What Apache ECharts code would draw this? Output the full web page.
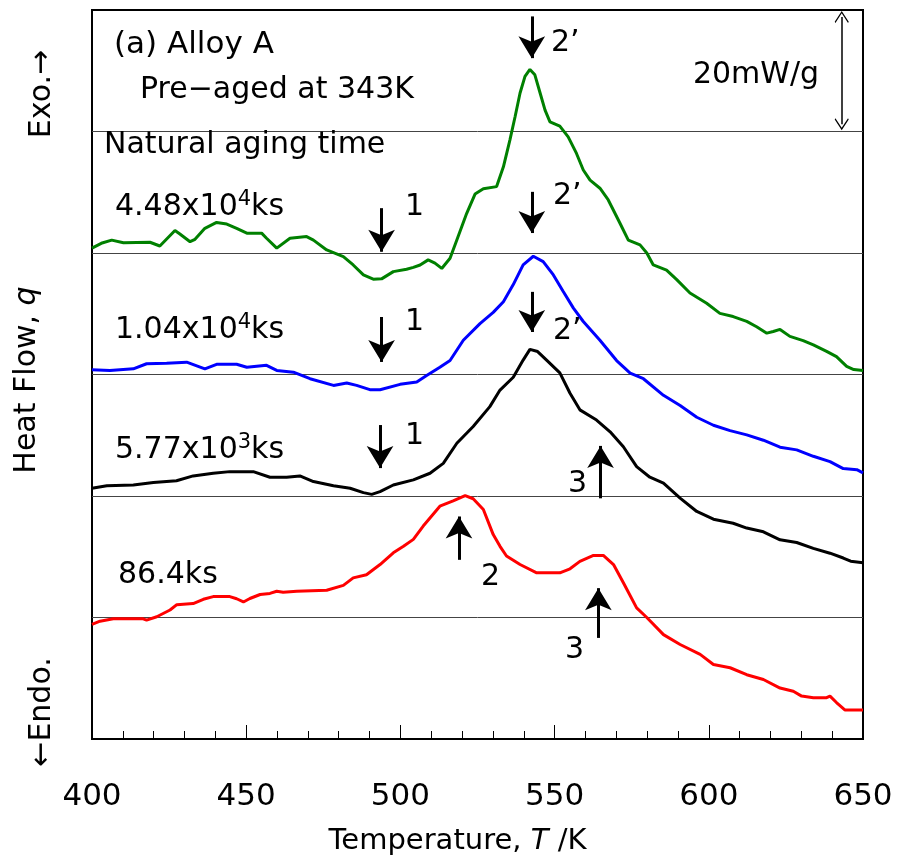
<!DOCTYPE html>
<html>
<head>
<meta charset="utf-8">
<script src="https://cdn.jsdelivr.net/npm/echarts@6/dist/echarts.min.js"></script>
<style>
html,body{margin:0;padding:0;background:#fff;}
#chart{width:900px;height:861px;}
</style>
</head>
<body>
<div id="chart"></div>
<script>
// ---------- data (temperature in K, heat flow relative to each baseline in mW/g) ----------
const greenT = [400,403,406.4,410.2,418.8,422,426.9,428.5,431.8,433.4,436.6,440.4,443.7,446.9,450.2,455,456.6,459.9,464.2,469.6,471.8,476.1,481.5,484.7,488,491.2,493.9,497.7,502,504.2,506.4,509,511.2,513.4,516.1,518.3,521.5,524.2,526.9,531.2,533.4,535.5,537.2,538.8,540.4,542,543.6,545.3,546.9,548.5,551.7,554.4,557.1,559.3,561.5,564.7,567.4,571.2,573.9,577.7,579.9,582,586.3,589.6,593.9,599.3,603.6,607.9,612.3,615.5,618.8,620.9,623.1,626.3,630.6,633.9,638.2,641.4,644.7,647,650];
const greenQ = [0.9,1.8,2.4,1.9,2.0,1.3,4.2,3.55,2.1,2.55,4.6,5.7,5.4,4.6,3.7,3.7,2.75,0.9,2.75,3.05,2.4,0.56,-0.7,-2.25,-4.1,-4.9,-4.85,-3.5,-3.05,-2.7,-2.25,-1.3,-1.9,-2.9,-1.0,2.4,7.4,11.0,12.0,12.4,16.1,21.1,25.5,29.9,33,34.3,33.3,29.9,26.7,24.5,23.7,21.7,18.6,15.5,13.6,12.1,9.9,5.55,2.4,1.5,0,-2.25,-3.2,-5.0,-7.5,-9.4,-11.3,-11.9,-12.8,-13.8,-15,-14.7,-14.3,-15.6,-16.4,-17.2,-18.4,-19.4,-21.2,-21.8,-22];

const blueT = [400,405.8,413.4,417.7,424.2,430.7,436.6,440.4,446.9,450.2,456.6,459.9,465.3,470.7,478.3,482.6,485.8,490.1,493.4,499.9,505.3,508.5,512.8,516.1,520.4,525.8,530.1,533.4,536.6,539.8,543.1,546.3,549.6,552.8,556.1,559.3,564.7,570.1,574.5,578.8,585.3,590.7,596.1,601.5,606.9,612.3,617.7,623.1,628.5,633.9,639.3,643.6,648,650];
const blueQ = [0.9,0.75,1.05,2.0,2.1,2.3,1.05,1.9,1.9,1.35,1.7,0.75,0.43,-0.8,-2.05,-1.6,-2.05,-2.85,-2.85,-1.85,-1.4,-0.2,1.35,2.6,6.4,9.5,11.6,13.6,16.8,20.5,22.1,21.1,18.6,15.5,12.4,9.9,6.4,2.6,0.25,-0.8,-3.9,-5.8,-8,-9.5,-10.5,-11.3,-12.3,-13.6,-14.1,-15.3,-16.3,-17.6,-17.8,-18.4];

const blackT = [400,404.8,413.4,419.9,427.4,432.8,439.3,444.7,452.3,457.7,463.1,467.4,471.8,478.3,483.7,488,490.7,493.4,497.7,504.2,509.6,513.9,518.3,523.6,529,532.3,536.6,539.8,542,544.5,547.4,551.7,555,558.2,563.6,568,572.3,576.6,580.9,585.3,590.7,596.1,601.5,607.9,612.3,617.7,623.1,628.5,633.9,639.3,643.6,646,650];
const blackQ = [1.45,1.9,2.05,2.5,2.85,3.75,4.25,4.55,4.55,3.5,3.5,3.75,2.7,1.9,1.45,0.62,0.3,0.8,2.05,3.0,4.25,6.1,9.85,13,16.7,19.8,22.2,25.4,27.4,27.0,25.4,23,19.2,16.1,14.2,12.0,9.2,5.5,3.5,2.4,-0.4,-2.9,-4.35,-5.1,-6,-6.7,-8.2,-8.7,-9.8,-10.7,-11.6,-12.2,-12.5];

const redT = [400,402.6,406.9,416.6,417.7,421,425.3,427.5,432.8,436.1,439.3,444.7,446.9,449.1,451.2,454.5,457.7,459.9,462,466.4,476.1,481.5,484.7,489,493.4,497.7,501,504.2,507.4,512.8,517.1,521,523.6,526.9,530.1,532.3,534.4,538.8,544.2,551.7,555,558.2,562.6,565.8,569.1,572.3,576.6,579.9,585.3,590.7,597.2,601.5,606.9,612.3,617.7,623.1,627.4,630.1,633.9,638.2,639.3,641.4,644.2,650];
const redQ = [-1.3,-0.7,-0.25,-0.25,-0.5,0.13,1.4,2.4,2.6,3.4,3.9,3.9,3.5,2.9,3.55,4.3,4.5,4.9,4.7,4.9,5.1,6,7.4,8,9.9,12.1,13.3,14.6,17.1,20.8,21.8,22.8,22.2,20.2,15.5,13.3,11.5,9.9,8.35,8.35,9.1,10.5,11.6,11.6,9.9,6.5,1.8,0,-3.2,-5.05,-6.9,-8.8,-9.4,-10.7,-11.6,-13.2,-13.8,-14.7,-15.0,-15.0,-14.7,-15.9,-17.3,-17.3];

// curve names (natural aging time) and vertical offsets of their baselines (mW/g)
const curveNames = ['86.4ks', '5.77x10^3ks', '1.04x10^4ks', '4.48x10^4ks'];
const baselines = [22.72, 45.44, 68.16, 90.88, 113.6];
const xTicks = [400, 450, 500, 550, 600, 650];

// ---------- chart ----------
const FONT = 'DejaVu Sans';
const chart = echarts.init(document.getElementById('chart'), null, {renderer: 'canvas'});

function build(T, Q, off) { return T.map((t, i) => [t, Q[i] + off]); }

function arrow(x, yTail, yHead) {
  return [
    {coord: [x, yTail], symbol: 'none'},
    {coord: [x, yHead], symbol: 'arrow', symbolSize: [20, 22]}
  ];
}
const chevron = 'path://M0,0 L10,9 L9,10 L0,2 L-9,10 L-10,9 Z';

const arrowStyle = {color: '#000', width: 3, type: 'solid'};

const series = [
  {name: curveNames[0], color: '#ff0000', T: redT, Q: redQ, off: baselines[0],
   arrows: [arrow(519, 33.5, 41.6), arrow(564.2, 18.9, 28.2)]},
  {name: curveNames[1], color: '#000000', T: blackT, Q: blackQ, off: baselines[1],
   arrows: [arrow(564.9, 45.0, 54.8), arrow(493.4, 58.7, 50.65), arrow(542.6, 83.6, 76.1)]},
  {name: curveNames[2], color: '#0000ff', T: blueT, Q: blueQ, off: baselines[2],
   arrows: [arrow(493.9, 78.9, 70.5), arrow(542.6, 102.3, 94.6)]},
  {name: curveNames[3], color: '#008000', T: greenT, Q: greenQ, off: baselines[3],
   arrows: [arrow(493.9, 99.25, 91.1), arrow(542.6, 135.1, 127.3)]}
].map((s, idx) => ({
  name: s.name,
  type: 'line',
  data: build(s.T, s.Q, s.off),
  showSymbol: false,
  symbol: 'none',
  smooth: false,
  z: 3,
  lineStyle: {color: s.color, width: 3},
  itemStyle: {color: s.color},
  markLine: {
    silent: true,
    animation: false,
    symbol: ['none', 'none'],
    label: {show: false},
    z: 2,
    data: [
      {yAxis: s.off, lineStyle: {color: '#444', width: 1, type: 'solid'}},
      ...(idx === 3 ? [
        {yAxis: baselines[4], lineStyle: {color: '#444', width: 1, type: 'solid'}},
        [
          {coord: [643.1, 114.95], symbol: chevron, symbolSize: [14, 12], lineStyle: {color: '#000', width: 1.5, type: 'solid'}},
          {coord: [643.1, 135.0], symbol: chevron, symbolSize: [14, 12]}
        ]
      ] : []),
      ...s.arrows.map(a => [Object.assign({lineStyle: arrowStyle}, a[0]), a[1]])
    ]
  }
}));

const txt = (text, x, y, extra) => Object.assign({
  type: 'text', x: x, y: y, z: 10,
  style: Object.assign({text: text, fill: '#000', fontSize: 30, fontFamily: FONT, align: 'left', verticalAlign: 'middle'}, extra || {})
});
const supRich = {
  b: {fontSize: 30, fontFamily: FONT, fill: '#000'},
  s: {fontSize: 21, fontFamily: FONT, fill: '#000', padding: [0, 0, 14, 0]}
};

const graphic = [
  txt('(a) Alloy A', 114, 45, {fontSize: 31}),
  txt('Pre\u2212aged at 343K', 140, 90),
  txt('Natural aging time', 104, 145),
  txt('{b|4.48x10}{s|4}{b|ks}', 115, 207, {rich: supRich}),
  txt('{b|1.04x10}{s|4}{b|ks}', 115, 330, {rich: supRich}),
  txt('{b|5.77x10}{s|3}{b|ks}', 115, 450, {rich: supRich}),
  txt('86.4ks', 118, 575),
  txt('1', 405, 207),
  txt('1', 405, 322),
  txt('1', 405, 436),
  txt('2\u2019', 551, 43),
  txt('2\u2019', 553, 196),
  txt('2\u2019', 553, 331),
  txt('3', 568, 484),
  txt('3', 565, 650),
  txt('2', 481, 577),
  txt('20mW/g', 756, 75, {align: 'center'}),
  txt('Exo.\u2192', 42, 94, {align: 'center'}),
  txt('{n|Heat Flow, }{i|q}', 27, 380, {align: 'center', rich: {n: {fontSize: 30, fontFamily: FONT, fill: '#000'}, i: {fontSize: 30, fontFamily: FONT, fontStyle: 'italic', fill: '#000'}}}),
  txt('\u2190Endo.', 42, 712, {align: 'center'})
];
// rotate the y-axis titles
graphic.slice(-3).forEach(g => { g.rotation = Math.PI / 2; });

chart.setOption({
  animation: false,
  backgroundColor: '#fff',
  grid: {left: 92, right: 37, top: 10, bottom: 122, show: true, borderColor: '#000', borderWidth: 2, backgroundColor: 'transparent'},
  xAxis: {
    type: 'value', min: xTicks[0], max: xTicks[xTicks.length - 1], interval: 50,
    name: '{n|Temperature, }{i|T}{n| /K}',
    nameLocation: 'middle', nameGap: 88,
    nameTextStyle: {padding: [0, 40, 0, 0], rich: {
      n: {fontSize: 29, fontFamily: FONT, color: '#000'},
      i: {fontSize: 29, fontFamily: FONT, fontStyle: 'italic', color: '#000'}
    }},
    axisLine: {show: true, lineStyle: {color: '#000', width: 2}},
    axisTick: {show: true, inside: true, length: 14, lineStyle: {color: '#000', width: 1}},
    minorTick: {show: true, splitNumber: 5, length: 8, lineStyle: {color: '#000', width: 1}},
    axisLabel: {fontSize: 31, fontFamily: FONT, color: '#000', margin: 42},
    splitLine: {show: false}
  },
  yAxis: {
    type: 'value', min: 0, max: 136.3,
    axisLine: {show: true, lineStyle: {color: '#000', width: 2}},
    axisTick: {show: false},
    axisLabel: {show: false},
    splitLine: {show: false}
  },
  series: series,
  graphic: graphic
});
</script>
</body>
</html>
